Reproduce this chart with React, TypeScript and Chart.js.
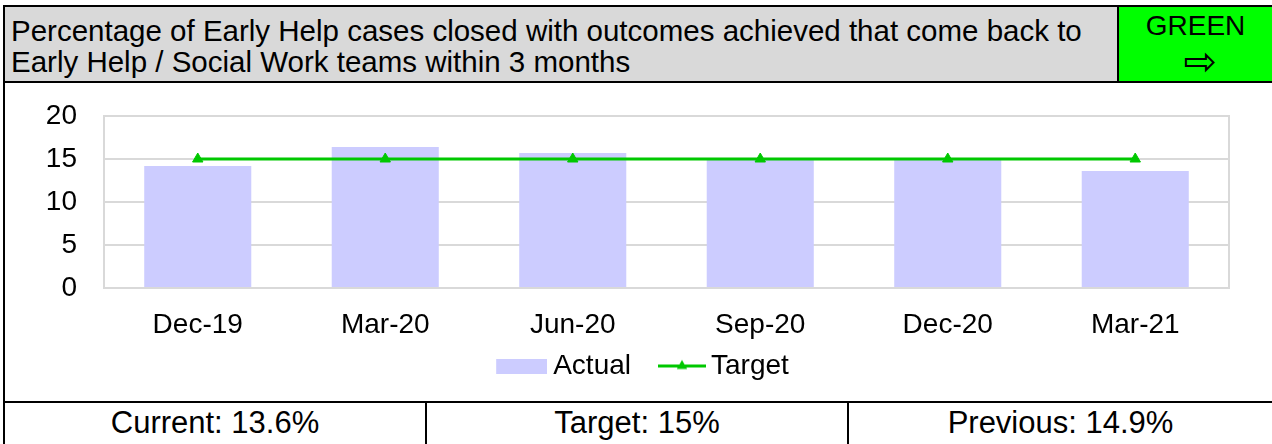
import React, { useEffect, useRef } from "react";
import { Chart, registerables } from "chart.js";

Chart.register(...registerables);

const categories = ["Dec-19", "Mar-20", "Jun-20", "Sep-20", "Dec-20", "Mar-21"];
const actualValues = [14.2, 16.4, 15.7, 14.9, 14.9, 13.6];
const targetValues = [15, 15, 15, 15, 15, 15];
const yTicks = [0, 5, 10, 15, 20];
const titleLines = [
  "Percentage of Early Help cases closed with outcomes achieved that come back to",
  "Early Help / Social Work teams within 3 months",
];
const statusLabel = "GREEN";
const statusArrow = "\u21E8";
const footerCells = ["Current: 13.6%", "Target: 15%", "Previous: 14.9%"];

const FONT = '"Liberation Sans", Arial, Helvetica, sans-serif';
const BAR_COLOR = "#ccccff";
const LINE_COLOR = "#00c800";
const GRID_COLOR = "#d9d9d9";

// legend swatches: visible part sits at the right of a wider transparent image
function makeActualSwatch(): HTMLCanvasElement {
  const c = document.createElement("canvas");
  c.width = 72;
  c.height = 15;
  const g = c.getContext("2d")!;
  g.fillStyle = BAR_COLOR;
  g.fillRect(21, 0, 51, 15);
  return c;
}

function makeTargetSwatch(): HTMLCanvasElement {
  const c = document.createElement("canvas");
  c.width = 74;
  c.height = 15;
  const g = c.getContext("2d")!;
  const x0 = 26;
  g.strokeStyle = LINE_COLOR;
  g.lineWidth = 3;
  g.beginPath();
  g.moveTo(x0, 7.5);
  g.lineTo(x0 + 48, 7.5);
  g.stroke();
  const cx = x0 + 24, cy = 7.5, r = 6;
  g.fillStyle = LINE_COLOR;
  g.beginPath();
  g.moveTo(cx, cy - r);
  g.lineTo(cx + r * Math.sin((2 * Math.PI) / 3), cy + r / 2);
  g.lineTo(cx - r * Math.sin((2 * Math.PI) / 3), cy + r / 2);
  g.closePath();
  g.fill();
  return c;
}

const framePlugin = {
  id: "plotFrame",
  beforeDatasetsDraw(chart: any) {
    const { ctx, chartArea: a } = chart;
    ctx.save();
    ctx.strokeStyle = GRID_COLOR;
    ctx.lineWidth = 2;
    ctx.strokeRect(
      Math.round(a.left),
      Math.round(a.top),
      Math.round(a.right - a.left),
      Math.round(a.bottom - a.top)
    );
    ctx.restore();
  },
};

export default function App() {
  const canvasRef = useRef<HTMLCanvasElement>(null);

  useEffect(() => {
    const canvas = canvasRef.current;
    if (!canvas) return;
    const actualSwatch = makeActualSwatch();
    const targetSwatch = makeTargetSwatch();
    const chart = new Chart(canvas, {
      type: "bar",
      data: {
        labels: categories,
        datasets: [
          {
            type: "bar",
            label: "Actual",
            data: actualValues,
            backgroundColor: BAR_COLOR,
            borderWidth: 0,
            barPercentage: 0.571,
            categoryPercentage: 1,
            order: 2,
          } as any,
          {
            type: "line",
            label: "Target",
            data: targetValues,
            borderColor: LINE_COLOR,
            backgroundColor: LINE_COLOR,
            borderWidth: 3,
            pointStyle: "triangle",
            pointRadius: 6,
            pointHoverRadius: 6,
            pointBackgroundColor: LINE_COLOR,
            pointBorderColor: LINE_COLOR,
            pointBorderWidth: 1,
            fill: false,
            tension: 0,
            order: 1,
          } as any,
        ],
      },
      options: {
        responsive: false,
        animation: false,
        devicePixelRatio: 1,
        layout: { padding: { top: 31, right: 0, bottom: 11, left: 0 } },
        plugins: {
          tooltip: { enabled: false },
          legend: {
            display: true,
            position: "bottom",
            labels: {
              color: "#000",
              font: { family: FONT, size: 28 },
              usePointStyle: true,
              pointStyleWidth: 56,
              padding: 10,
              sort: (a: any, b: any) => a.datasetIndex - b.datasetIndex,
              generateLabels: (ch: any) => {
                const base = Chart.defaults.plugins.legend.labels.generateLabels(ch);
                return base.map((item: any) => ({
                  ...item,
                  pointStyle: item.datasetIndex === 0 ? actualSwatch : targetSwatch,
                  fillStyle: "rgba(0,0,0,0)",
                  strokeStyle: "rgba(0,0,0,0)",
                  lineWidth: 0,
                }));
              },
            },
          },
        },
        scales: {
          x: {
            grid: { display: false, drawTicks: false },
            border: { display: false },
            ticks: {
              color: "#000",
              font: { family: FONT, size: 28 },
              padding: 20,
              maxRotation: 0,
              autoSkip: false,
            },
            afterFit: (s: any) => {
              s.height = 54;
            },
          },
          y: {
            position: "left",
            min: 0,
            max: 20,
            afterBuildTicks: (s: any) => {
              s.ticks = yTicks.map((v) => ({ value: v }));
            },
            grid: { color: GRID_COLOR, lineWidth: 2, drawTicks: false },
            border: { display: false },
            ticks: {
              color: "#000",
              font: { family: FONT, size: 28, lineHeight: 0.2 },
              padding: 27,
            },
            afterFit: (s: any) => {
              s.width = 104;
            },
          },
          rightGap: {
            type: "linear",
            position: "right",
            display: true,
            grid: { display: false, drawTicks: false },
            border: { display: false },
            ticks: { display: false },
            afterFit: (s: any) => {
              s.width = 43;
            },
          },
        },
      } as any,
      plugins: [framePlugin],
    });
    return () => chart.destroy();
  }, []);

  const colEdges = [3, 425, 847, 1272];

  return (
    <div
      style={{
        position: "absolute",
        left: 0,
        top: 0,
        width: 1272,
        height: 444,
        overflow: "hidden",
        background: "#fff",
        fontFamily: FONT,
        color: "#000",
      }}
    >
      {/* header */}
      <div
        style={{
          position: "absolute",
          left: 3,
          top: 5,
          width: 1300,
          height: 78,
          boxSizing: "border-box",
          border: "2px solid #000",
          background: "#d9d9d9",
        }}
      />
      <div
        style={{
          position: "absolute",
          left: 11,
          top: 15,
          fontSize: 29.5,
          lineHeight: "31px",
          whiteSpace: "nowrap",
        }}
      >
        {titleLines.map((l) => (
          <div key={l}>{l}</div>
        ))}
      </div>
      <div
        style={{
          position: "absolute",
          left: 1117,
          top: 5,
          width: 200,
          height: 78,
          boxSizing: "border-box",
          border: "2px solid #000",
          background: "#00ff00",
        }}
      />
      <div
        style={{
          position: "absolute",
          left: 1119,
          width: 153,
          top: 10,
          textAlign: "center",
          fontSize: 28,
          lineHeight: "32px",
        }}
      >
        {statusLabel}
      </div>
      <div
        style={{
          position: "absolute",
          left: 1124,
          width: 153,
          top: 38,
          textAlign: "center",
          fontSize: 40,
          lineHeight: "46px",
          fontFamily: '"DejaVu Sans", sans-serif',
        }}
      >
        {statusArrow}
      </div>

      {/* chart region left border */}
      <div
        style={{
          position: "absolute",
          left: 3,
          top: 83,
          width: 2,
          height: 361,
          background: "#000",
        }}
      />
      <canvas
        ref={canvasRef}
        width={1272}
        height={316}
        style={{ position: "absolute", left: 0, top: 85, width: 1272, height: 316 }}
      />

      {/* footer */}
      <div
        style={{
          position: "absolute",
          left: 3,
          top: 401,
          width: 1300,
          height: 2,
          background: "#000",
        }}
      />
      {footerCells.map((t, i) => (
        <div
          key={t}
          style={{
            position: "absolute",
            left: colEdges[i],
            top: 403,
            width: colEdges[i + 1] - colEdges[i],
            height: 41,
            boxSizing: "border-box",
            borderLeft: "2px solid #000",
            textAlign: "center",
            fontSize: 31,
            lineHeight: "40px",
          }}
        >
          {t}
        </div>
      ))}
    </div>
  );
}
